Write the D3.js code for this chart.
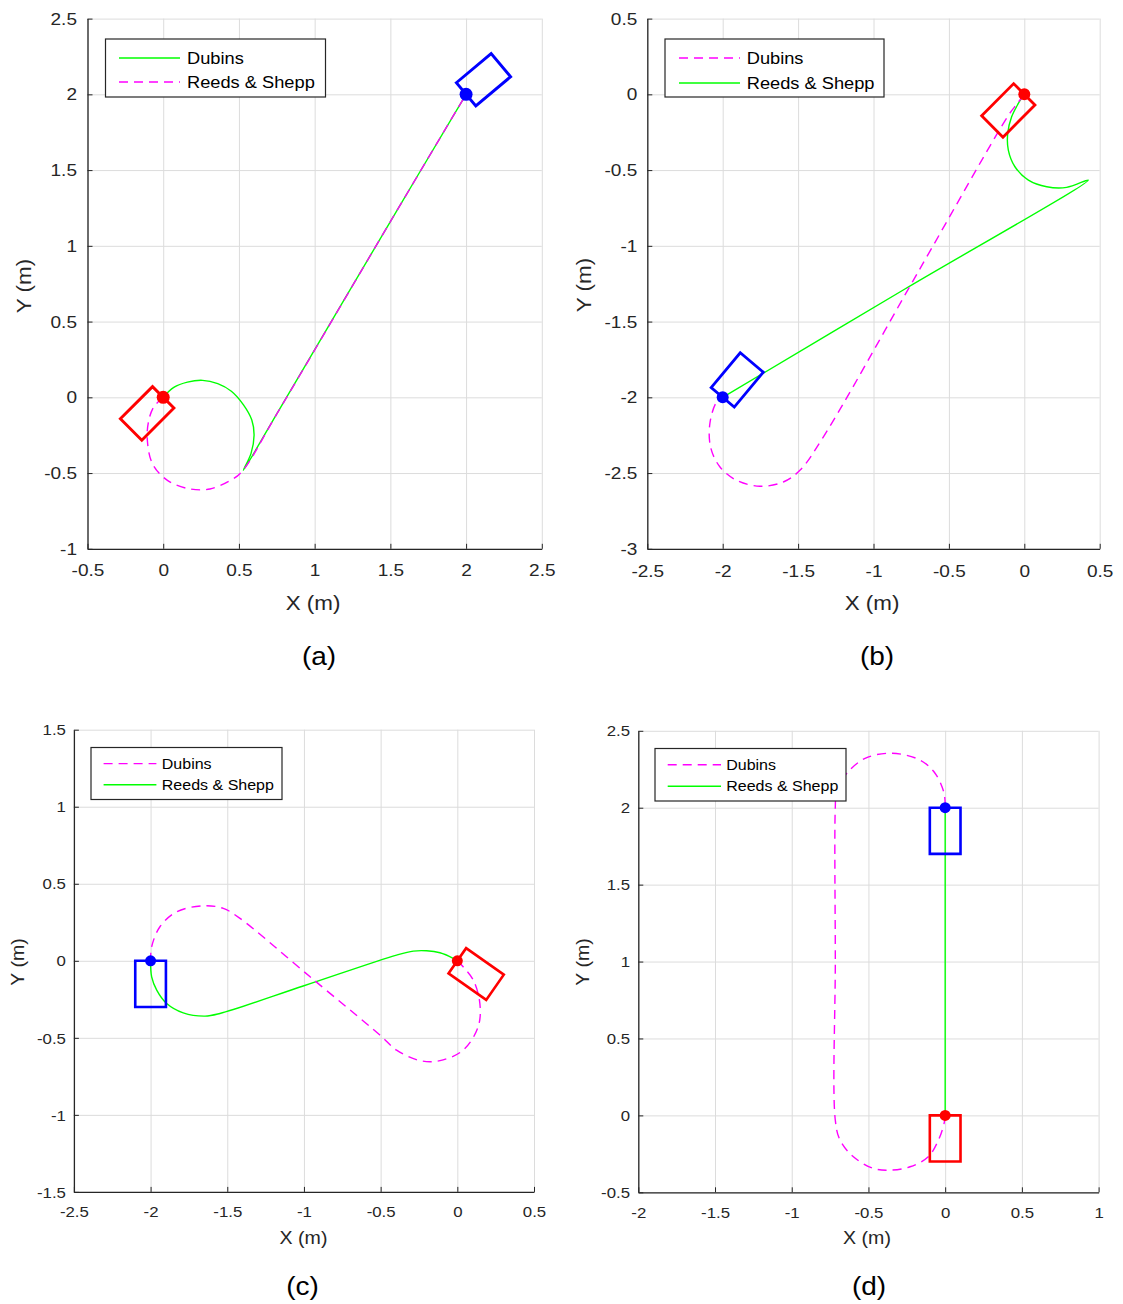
<!DOCTYPE html>
<html><head><meta charset="utf-8">
<script src="https://cdn.jsdelivr.net/npm/d3@7"></script>
<style>body{margin:0;background:#fff;} svg{display:block;} text{font-family:Arial,"Liberation Sans",sans-serif;}</style>
</head><body><svg id="chart" width="1123" height="1304"></svg>
<script>
// ---------------- DATA ----------------
const panelLabels = ["(a)", "(b)", "(c)", "(d)"];
const seriesNames = ["Dubins", "Reeds & Shepp"];
const xDomains = [[-0.5, 2.5], [-2.5, 0.5], [-2.5, 0.5], [-2, 1]];
const yDomains = [[-1, 2.5], [-3, 0.5], [-1.5, 1.5], [-0.5, 2.5]];
const xTickValues = [
  [-0.5, 0, 0.5, 1, 1.5, 2, 2.5],
  [-2.5, -2, -1.5, -1, -0.5, 0, 0.5],
  [-2.5, -2, -1.5, -1, -0.5, 0, 0.5],
  [-2, -1.5, -1, -0.5, 0, 0.5, 1]];
const yTickValues = [
  [-1, -0.5, 0, 0.5, 1, 1.5, 2, 2.5],
  [-3, -2.5, -2, -1.5, -1, -0.5, 0, 0.5],
  [-1.5, -1, -0.5, 0, 0.5, 1, 1.5],
  [-0.5, 0, 0.5, 1, 1.5, 2, 2.5]];
const xAxisTitle = "X (m)";
const yAxisTitle = "Y (m)";

// paths (x, y in metres), from start (red) to goal (blue)
const dubinsA = [[0,0],[0.07,0.065],[0.16,0.1],[0.26,0.112],[0.36,0.09],[0.45,0.04],[0.53,-0.05],[0.585,-0.15],[0.600,-0.25],[0.58,-0.37],[0.529,-0.482],[0.75,-0.11],[1.5,1.16],[2,2]];
const reedsA = [[0,0],[-0.06,-0.06],[-0.095,-0.15],[-0.105,-0.28],[-0.07,-0.44],[0.03,-0.55],[0.177,-0.605],[0.309,-0.605],[0.441,-0.55],[0.518,-0.493],[0.75,-0.11],[1.5,1.16],[2,2]];
const dubinsB = [[0,0],[-0.05,-0.065],[-0.103,-0.135],[-0.7,-1.165],[-1.333,-2.262],[-1.488,-2.482],[-1.598,-2.559],[-1.753,-2.587],[-1.908,-2.548],[-2.018,-2.46],[-2.08,-2.33],[-2.085,-2.173],[-2.04,-2.03],[-2,-2]];
const reedsB = [[0,0],[-0.033,-0.049],[-0.084,-0.148],[-0.110,-0.258],[-0.106,-0.368],[-0.062,-0.478],[0.027,-0.566],[0.149,-0.610],[0.281,-0.614],[0.424,-0.566],[-0.8,-1.29],[-2,-2]];
const dubinsC = [[0,0],[0.038,-0.039],[0.104,-0.125],[0.147,-0.277],[0.136,-0.428],[0.038,-0.58],[-0.113,-0.648],[-0.244,-0.648],[-0.396,-0.58],[-0.505,-0.482],[-0.96,-0.104],[-1.417,0.275],[-1.526,0.340],[-1.657,0.357],[-1.830,0.318],[-1.939,0.221],[-1.993,0.091],[-2,0]];
const reedsC = [[0,0],[-0.027,0.016],[-0.113,0.052],[-0.2,0.065],[-0.287,0.063],[-0.396,0.037],[-1.0,-0.162],[-1.548,-0.342],[-1.645,-0.359],[-1.787,-0.338],[-1.895,-0.277],[-1.960,-0.190],[-1.993,-0.104],[-2,0]];
const dubinsD = [[0,0],[-0.007,-0.052],[-0.044,-0.161],[-0.110,-0.269],[-0.229,-0.334],[-0.359,-0.356],[-0.468,-0.345],[-0.598,-0.269],[-0.685,-0.161],[-0.716,-0.031],[-0.716,1.0],[-0.716,2.006],[-0.707,2.115],[-0.641,2.224],[-0.522,2.321],[-0.348,2.354],[-0.164,2.310],[-0.066,2.224],[-0.007,2.094],[0,2]];
const reedsD = [[0,0],[0,1],[0,2]];
const dubinsPaths = [dubinsA, dubinsB, dubinsC, dubinsD];
const reedsPaths = [reedsA, reedsB, reedsC, reedsD];

// vehicle poses: x, y, direction (deg) in which the body extends from the marker
const startPoses = [[0, 0, 225], [0, 0, 225], [0, 0, -35], [0, 0, 270]];
const goalPoses = [[2, 2, 40], [-2, -2, 50], [-2, 0, 270], [0, 2, 270]];
const carLength = 0.3;
const carWidth = 0.2;

// ---------------- LAYOUT ----------------
const boxes = [
  {l: 87.5, r: 541.8, t: 18.6, b: 548.8},
  {l: 647.3, r: 1099.7, t: 18.6, b: 548.8},
  {l: 73.9, r: 534, t: 729.7, b: 1191.9},
  {l: 638.3, r: 1098.6, t: 730.8, b: 1192.3}];
const legendBoxes = [
  {x0: 105.5, y0: 39, x1: 325.5, y1: 97, lx0: 119, lx1: 180, tx: 187, r1: 58, r2: 82},
  {x0: 665, y0: 39, x1: 884, y1: 97, lx0: 679, lx1: 740, tx: 746.7, r1: 58, r2: 83},
  {x0: 91, y0: 747.5, x1: 282, y1: 799.5, lx0: 103.6, lx1: 156.4, tx: 161.8, r1: 763.6, r2: 784.7},
  {x0: 655, y0: 748.5, x1: 846, y1: 801, lx0: 667.7, lx1: 721, tx: 726.2, r1: 764.7, r2: 786.3}];
const xTitlePos = [[313, 603], [872, 603], [303.5, 1238], [867, 1238]];
const yTitlePos = [[24, 286], [584, 285], [18, 962], [583, 962]];
const panelLabelPos = [[319, 657], [877, 657], [302.5, 1287], [869, 1287]];
const tickFont = [17, 17, 15, 15];
const titleFont = [20, 20, 17.5, 17.5];
const legendFont = [16.3, 16.3, 14.3, 14.3];
const dotR = [6.5, 6, 5.5, 5.5];
const carStroke = [2.9, 2.8, 2.6, 2.6];
const yTickGap = [10.5, 10, 8, 8.3];
const xTickGap = [21.5, 23, 19.5, 20.5];
const SX = 1.12;
const GREEN = "#00ff00", MAGENTA = "#ff00ff";
// which style Dubins uses in each panel
const dubinsIsGreen = [true, false, false, false];

const svg = d3.select("#chart");
svg.append("rect").attr("width", 1123).attr("height", 1304).attr("fill", "#fff");

function txt(g, x, y, s, size, anchor, rot) {
  return g.append("text")
    .attr("transform", `translate(${x},${y})` + (rot ? ` rotate(${rot})` : "") + ` scale(${SX},1)`)
    .attr("text-anchor", anchor || "middle")
    .attr("dominant-baseline", "central")
    .attr("font-size", size)
    .attr("fill", "#262626")
    .text(s);
}

for (let i = 0; i < 4; i++) {
  const B = boxes[i];
  const x = d3.scaleLinear().domain(xDomains[i]).range([B.l, B.r]);
  const y = d3.scaleLinear().domain(yDomains[i]).range([B.b, B.t]);
  const g = svg.append("g");

  // grid
  const gx = g.append("g").attr("transform", `translate(0,${B.b})`)
    .call(d3.axisBottom(x).tickValues(xTickValues[i]).tickSize(-(B.b - B.t)).tickFormat(""));
  gx.select(".domain").remove();
  gx.selectAll("line").attr("stroke", "#dcdcdc").attr("stroke-width", 1);
  const gy = g.append("g").attr("transform", `translate(${B.l},0)`)
    .call(d3.axisLeft(y).tickValues(yTickValues[i]).tickSize(-(B.r - B.l)).tickFormat(""));
  gy.select(".domain").remove();
  gy.selectAll("line").attr("stroke", "#dcdcdc").attr("stroke-width", 1);

  // axes with inward ticks
  const ax = g.append("g").attr("transform", `translate(0,${B.b})`)
    .call(d3.axisBottom(x).tickValues(xTickValues[i]).tickSize(-5).tickSizeOuter(0).tickFormat(d => String(d)));
  ax.select(".domain").attr("stroke", "#262626").attr("stroke-width", 1.3);
  ax.selectAll(".tick line").attr("stroke", "#262626");
  ax.selectAll(".tick text").attr("y", xTickGap[i]).attr("dy", null).attr("dominant-baseline", "central")
    .attr("transform", `scale(${SX},1)`).attr("font-size", tickFont[i]).attr("fill", "#262626")
    .attr("font-family", "Arial, 'Liberation Sans', sans-serif");
  const ay = g.append("g").attr("transform", `translate(${B.l},0)`)
    .call(d3.axisLeft(y).tickValues(yTickValues[i]).tickSize(-5).tickSizeOuter(0).tickFormat(d => String(d)));
  ay.select(".domain").attr("stroke", "#262626").attr("stroke-width", 1.3);
  ay.selectAll(".tick line").attr("stroke", "#262626");
  ay.selectAll(".tick text").attr("x", -yTickGap[i] / SX).attr("dy", null).attr("dominant-baseline", "central")
    .attr("transform", `scale(${SX},1)`).attr("font-size", tickFont[i]).attr("fill", "#262626")
    .attr("font-family", "Arial, 'Liberation Sans', sans-serif");

  // titles
  txt(g, xTitlePos[i][0], xTitlePos[i][1], xAxisTitle, titleFont[i]);
  txt(g, yTitlePos[i][0], yTitlePos[i][1], yAxisTitle, titleFont[i], "middle", -90);
  txt(svg, panelLabelPos[i][0], panelLabelPos[i][1], panelLabels[i], 25).attr("fill", "#000");

  // paths
  const line = d3.line().x(d => x(d[0])).y(d => y(d[1])).curve(d3.curveCatmullRom.alpha(0.5));
  const dubinsStyle = dubinsIsGreen[i] ? {c: GREEN, dash: null} : {c: MAGENTA, dash: "9,6"};
  const reedsStyle = dubinsIsGreen[i] ? {c: MAGENTA, dash: "9,6"} : {c: GREEN, dash: null};
  const series = [{d: dubinsPaths[i], s: dubinsStyle}, {d: reedsPaths[i], s: reedsStyle}];
  series.sort((a, b) => (a.s.dash ? 1 : 0) - (b.s.dash ? 1 : 0));
  series.forEach(se => {
    g.append("path").attr("d", line(se.d)).attr("fill", "none")
      .attr("stroke", se.s.c).attr("stroke-width", 1.4)
      .attr("stroke-dasharray", se.s.dash);
  });

  // vehicles
  const drawCar = (pose, color) => {
    const [px, py, ang] = pose;
    const a = ang * Math.PI / 180;
    const dx = Math.cos(a), dy = Math.sin(a), nx = -Math.sin(a), ny = Math.cos(a);
    const hw = carWidth / 2;
    const pts = [
      [px + nx * hw, py + ny * hw],
      [px + nx * hw + dx * carLength, py + ny * hw + dy * carLength],
      [px - nx * hw + dx * carLength, py - ny * hw + dy * carLength],
      [px - nx * hw, py - ny * hw]];
    g.append("path").attr("d", d3.line().x(d => x(d[0])).y(d => y(d[1]))(pts) + "Z")
      .attr("fill", "none").attr("stroke", color).attr("stroke-width", carStroke[i]).attr("stroke-linejoin", "miter");
  };
  drawCar(startPoses[i], "#ff0000");
  drawCar(goalPoses[i], "#0000ff");
  g.append("circle").attr("cx", x(startPoses[i][0])).attr("cy", y(startPoses[i][1])).attr("r", dotR[i]).attr("fill", "#ff0000");
  g.append("circle").attr("cx", x(goalPoses[i][0])).attr("cy", y(goalPoses[i][1])).attr("r", dotR[i]).attr("fill", "#0000ff");

  // legend
  const L = legendBoxes[i];
  g.append("rect").attr("x", L.x0).attr("y", L.y0).attr("width", L.x1 - L.x0).attr("height", L.y1 - L.y0)
    .attr("fill", "#fff").attr("stroke", "#262626").attr("stroke-width", 1.2);
  const rows = [L.r1, L.r2];
  [dubinsStyle, reedsStyle].forEach((st, k) => {
    g.append("line").attr("x1", L.lx0).attr("x2", L.lx1).attr("y1", rows[k]).attr("y2", rows[k])
      .attr("stroke", st.c).attr("stroke-width", 1.4).attr("stroke-dasharray", st.dash);
    txt(g, L.tx, rows[k], seriesNames[k], legendFont[i], "start").attr("fill", "#000");
  });
}
</script></body></html>
